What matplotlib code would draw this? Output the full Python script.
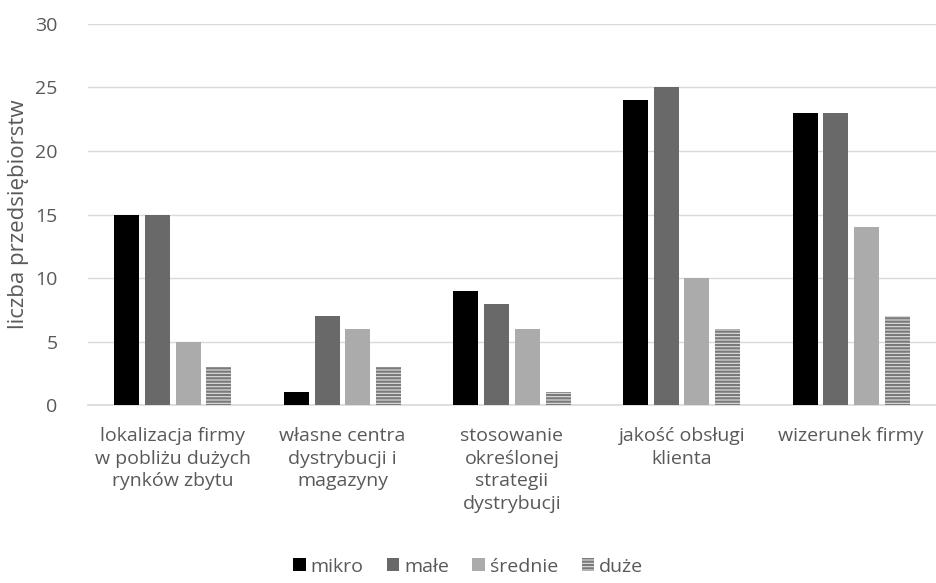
import numpy as np
import matplotlib.pyplot as plt
from matplotlib.patches import Patch

plt.rcParams['font.family'] = ['Open Sans', 'DejaVu Sans']
plt.rcParams['hatch.linewidth'] = 1.6

kategorie = ['lokalizacja firmy\nw pobliżu dużych\nrynków zbytu',
             'własne centra\ndystrybucji i\nmagazyny',
             'stosowanie\nokreślonej\nstrategii\ndystrybucji',
             'jakość obsługi\nklienta',
             'wizerunek firmy']
serie = ['mikro', 'małe', 'średnie', 'duże']
mikro = [15, 1, 9, 24, 23]
male = [15, 7, 8, 25, 23]
srednie = [5, 6, 6, 10, 14]
duze = [3, 3, 1, 6, 7]

tekst = '#595959'
fig = plt.figure(figsize=(9.36, 5.83), dpi=100)
ax = fig.add_axes([0.094, 0.305, 0.906, 0.654])

x = np.arange(len(kategorie))
w = 0.147
step = 0.181
offs = (np.arange(4) - 1.5) * step
ax.bar(x + offs[0], mikro, w, color='#000000', zorder=3)
ax.bar(x + offs[1], male, w, color='#696969', zorder=3)
ax.bar(x + offs[2], srednie, w, color='#ababab', zorder=3)
ax.bar(x + offs[3], duze, w, color='#e0e0e0', edgecolor='#7a7a7a', linewidth=0,
       hatch='-----', zorder=3)

ax.set_xlim(-0.5, len(kategorie) - 0.5)
ax.set_ylim(0, 30)
ax.set_yticks(range(0, 31, 5))
ax.yaxis.grid(True, color='#d9d9d9', linewidth=1, zorder=0)
for s in ['top', 'right', 'left']:
    ax.spines[s].set_visible(False)
ax.spines['bottom'].set_color('#d9d9d9')
ax.spines['bottom'].set_linewidth(1.2)
ax.tick_params(axis='both', length=0, labelsize=14, colors=tekst)
ax.tick_params(axis='x', pad=16)
ax.tick_params(axis='y', pad=22)
ax.set_xticks(x)
ax.set_xticklabels(kategorie, linespacing=1.32, va='top')
ax.set_ylabel('liczba przedsiębiorstw', fontsize=16, color=tekst, labelpad=4)

uchwyty = [Patch(facecolor='#000000'), Patch(facecolor='#696969'),
           Patch(facecolor='#ababab'),
           Patch(facecolor='#e0e0e0', edgecolor='#7a7a7a', linewidth=0, hatch='-----')]
leg = fig.legend(uchwyty, serie, loc='center', bbox_to_anchor=(0.5, 0.028), ncol=4,
                 frameon=False, fontsize=14, handlelength=0.65, handleheight=0.65,
                 handletextpad=0.25, columnspacing=1.2, borderpad=0)
for t in leg.get_texts():
    t.set_color(tekst)

fig.savefig('out.png', dpi=100)
